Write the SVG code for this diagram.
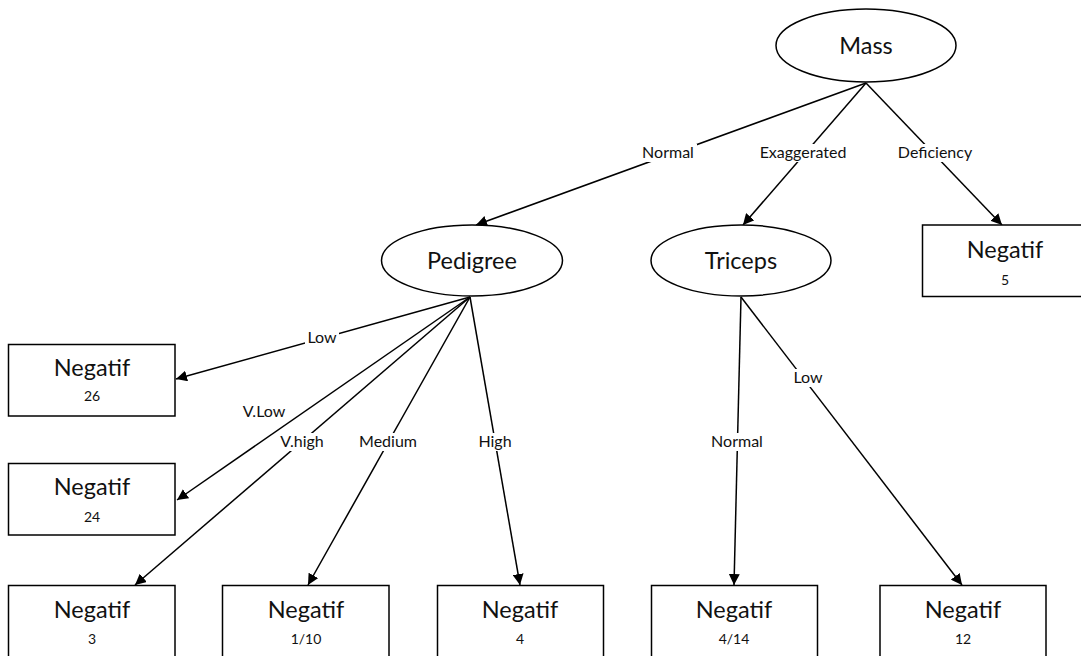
<svg xmlns="http://www.w3.org/2000/svg" width="1081" height="656" viewBox="0 0 1081 656">
<defs>
<style>
.node{fill:#fff;stroke:#000;stroke-width:1.5}
.t{font-family:Lato,"Open Sans",sans-serif;fill:#111;text-anchor:middle}
.big{font-size:23.5px}
.num{font-size:14px}
.lbl{font-size:16px}
.edge{stroke:#000;stroke-width:1.5;fill:none;marker-end:url(#arr)}
.bg{fill:#fff}
</style>
<marker id="arr" viewBox="0 0 10 10" refX="10" refY="5" markerWidth="11" markerHeight="11" markerUnits="userSpaceOnUse" orient="auto">
<path d="M0,0 L10,5 L0,10 z" fill="#000"/>
</marker>
</defs>
<rect width="1081" height="656" fill="#fff"/>
<g id="connectors">
<line class="edge" x1="866" y1="83" x2="476" y2="225"/>
<line class="edge" x1="866" y1="83" x2="743" y2="225"/>
<line class="edge" x1="866" y1="83" x2="1002" y2="225"/>
<line class="edge" x1="470" y1="297" x2="176" y2="379"/>
<line class="edge" x1="470" y1="297" x2="177" y2="500"/>
<line class="edge" x1="470" y1="297" x2="135" y2="585"/>
<line class="edge" x1="470" y1="297" x2="308" y2="585"/>
<line class="edge" x1="470" y1="297" x2="520" y2="585"/>
<line class="edge" x1="741" y1="297" x2="734" y2="585"/>
<line class="edge" x1="741" y1="297" x2="962" y2="585"/>
<g id="labels">
<rect class="bg" x="639" y="144" width="58" height="18"/><text class="t lbl" x="668" y="158">Normal</text>
<rect class="bg" x="755" y="144" width="96" height="18"/><text class="t lbl" x="803" y="158">Exaggerated</text>
<rect class="bg" x="895" y="144" width="80" height="18"/><text class="t lbl" x="935" y="158">Deficiency</text>
<rect class="bg" x="305" y="329" width="34" height="18"/><text class="t lbl" x="322" y="343">Low</text>
<rect class="bg" x="240" y="403" width="49" height="18"/><text class="t lbl" x="264" y="417">V.Low</text>
<rect class="bg" x="276" y="433" width="52" height="18"/><text class="t lbl" x="302" y="447">V.high</text>
<rect class="bg" x="354" y="433" width="67" height="18"/><text class="t lbl" x="388" y="447">Medium</text>
<rect class="bg" x="477" y="433" width="37" height="18"/><text class="t lbl" x="495" y="447">High</text>
<rect class="bg" x="708" y="433" width="59" height="18"/><text class="t lbl" x="737" y="447">Normal</text>
<rect class="bg" x="791" y="369" width="34" height="18"/><text class="t lbl" x="808" y="383">Low</text>
</g>
</g>
<g id="mass"><ellipse class="node" cx="866" cy="45.5" rx="90" ry="36.5"/><text class="t big" x="866" y="54">Mass</text></g>
<g id="pedigree"><ellipse class="node" cx="472" cy="260.5" rx="90.5" ry="35.5"/><text class="t big" x="472" y="269">Pedigree</text></g>
<g id="triceps"><ellipse class="node" cx="741" cy="260.5" rx="90" ry="35.5"/><text class="t big" x="741" y="269">Triceps</text></g>
<g id="leaf5"><rect class="node" x="922.5" y="225" width="170" height="71.5"/><text class="t big" x="1005" y="258">Negatif</text><text class="t num" x="1005" y="285">5</text></g>
<g id="leaf26"><rect class="node" x="8.5" y="344.5" width="166.5" height="71.5"/><text class="t big" x="92" y="376">Negatif</text><text class="t num" x="92" y="401">26</text></g>
<g id="leaf24"><rect class="node" x="8.5" y="463.5" width="166.5" height="71.5"/><text class="t big" x="92" y="495">Negatif</text><text class="t num" x="92" y="522">24</text></g>
<g id="leaf3"><rect class="node" x="8.5" y="585.5" width="166.5" height="80"/><text class="t big" x="92" y="618">Negatif</text><text class="t num" x="92" y="644">3</text></g>
<g id="leaf110"><rect class="node" x="222.5" y="585.5" width="166.5" height="80"/><text class="t big" x="306" y="618">Negatif</text><text class="t num" x="306" y="644">1/10</text></g>
<g id="leaf4"><rect class="node" x="437.5" y="585.5" width="166" height="80"/><text class="t big" x="520" y="618">Negatif</text><text class="t num" x="520" y="644">4</text></g>
<g id="leaf414"><rect class="node" x="651.5" y="585.5" width="166" height="80"/><text class="t big" x="734" y="618">Negatif</text><text class="t num" x="734" y="644">4/14</text></g>
<g id="leaf12"><rect class="node" x="880" y="585.5" width="166" height="80"/><text class="t big" x="963" y="618">Negatif</text><text class="t num" x="963" y="644">12</text></g>
</svg>
